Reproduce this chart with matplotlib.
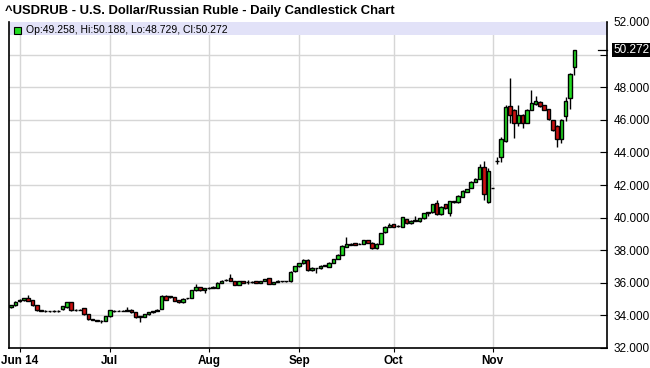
import matplotlib
matplotlib.use("Agg")
import matplotlib.pyplot as plt
from matplotlib.patches import Rectangle
import pandas as pd

plt.rcParams['font.family'] = ['Liberation Sans', 'DejaVu Sans']

# trading days shown on the chart
dates = pd.bdate_range('2014-05-29', '2014-11-28')

# daily OHLC
opens = [34.49, 34.62, 34.88, 34.93, 35.05, 34.92, 34.62, 34.31, 34.29, 34.27,
         34.26, 34.27, 34.39, 34.51, 34.80, 34.33, 34.35, 34.43, 34.06, 33.75,
         33.71, 33.66, 33.67, 33.94, 34.28, 34.27, 34.28, 34.29, 34.35, 34.18,
         33.92, 33.90, 34.08, 34.18, 34.27, 34.40, 35.18, 35.12, 35.12, 34.95,
         34.81, 35.04, 35.06, 35.53, 35.73, 35.57, 35.67, 35.70, 35.69, 36.00,
         36.16, 36.31, 36.10, 35.88, 36.10, 36.02, 36.04, 36.10, 36.00, 36.10,
         36.29, 35.94, 36.06, 36.08, 36.09, 36.10, 36.72, 37.03, 37.21, 37.42,
         36.76, 36.88, 36.89, 37.06, 37.00, 37.24, 37.49, 37.71, 38.20, 38.35,
         38.43, 38.38, 38.41, 38.61, 38.47, 38.12, 38.41, 39.09, 39.43, 39.58,
         39.48, 39.45, 39.91, 39.66, 39.82, 39.78, 39.95, 40.29, 40.32, 40.89,
         40.21, 40.83, 40.27, 40.99, 40.93, 41.28, 41.59, 41.82, 42.20, 42.37,
         43.11, 40.95, 41.82, 43.50, 43.74, 44.71, 46.84, 46.62, 45.82, 46.31,
         45.82, 46.62, 46.96, 47.09, 46.88, 46.64, 45.96, 45.65, 44.83, 46.23,
         47.35, 49.258]
highs = [34.66, 34.88, 34.99, 35.08, 35.23, 34.95, 34.65, 34.34, 34.32, 34.30,
         34.31, 34.31, 34.58, 34.83, 34.82, 34.40, 34.40, 34.46, 34.08, 33.78,
         33.73, 33.69, 33.96, 34.34, 34.31, 34.31, 34.33, 34.51, 34.38, 34.20,
         33.96, 34.08, 34.20, 34.29, 34.37, 35.25, 35.26, 35.20, 35.15, 34.97,
         35.04, 35.09, 35.55, 35.90, 35.76, 35.70, 35.72, 35.80, 36.02, 36.16,
         36.24, 36.55, 36.12, 36.12, 36.12, 36.15, 36.12, 36.13, 36.12, 36.25,
         36.32, 36.06, 36.15, 36.13, 36.14, 36.70, 37.02, 37.23, 37.45, 37.45,
         36.94, 36.93, 37.07, 37.12, 37.26, 37.48, 37.74, 38.30, 38.82, 38.45,
         38.46, 38.46, 38.64, 38.65, 38.50, 38.43, 39.08, 39.46, 39.68, 39.62,
         39.55, 40.06, 39.94, 39.83, 40.11, 39.97, 40.30, 40.36, 40.86, 41.07,
         40.71, 40.86, 41.02, 41.02, 41.37, 41.68, 41.78, 42.23, 42.40, 43.29,
         43.50, 43.07, 41.82, 43.70, 44.93, 46.88, 48.54, 46.66, 46.92, 46.35,
         46.66, 47.81, 47.44, 47.18, 46.92, 46.68, 46.00, 45.70, 46.05, 47.39,
         48.90, 50.188]
lows = [34.45, 34.58, 34.84, 34.90, 34.86, 34.58, 34.28, 34.24, 34.23, 34.22,
        34.22, 34.23, 34.35, 34.48, 34.28, 34.30, 34.32, 34.05, 33.74, 33.70,
        33.64, 33.54, 33.64, 33.92, 34.22, 34.24, 34.25, 34.27, 34.16, 33.86,
        33.57, 33.88, 34.05, 34.16, 34.25, 34.37, 34.94, 35.08, 34.88, 34.78,
        34.79, 35.01, 35.04, 35.50, 35.50, 35.36, 35.62, 35.66, 35.66, 35.98,
        36.12, 36.08, 35.85, 35.85, 35.97, 35.90, 35.98, 35.97, 35.97, 36.08,
        35.91, 35.92, 36.02, 36.04, 36.05, 36.06, 36.69, 37.00, 37.18, 36.72,
        36.73, 36.63, 36.86, 37.03, 36.97, 37.22, 37.46, 37.68, 38.17, 38.30,
        38.30, 38.36, 38.38, 38.44, 38.09, 38.05, 38.38, 39.06, 39.40, 39.42,
        39.44, 39.42, 39.63, 39.63, 39.79, 39.75, 39.92, 40.11, 40.30, 40.18,
        40.18, 40.55, 40.10, 40.88, 40.88, 41.25, 41.56, 41.79, 42.17, 42.34,
        41.10, 40.90, 41.82, 43.30, 43.39, 44.65, 45.82, 44.87, 45.65, 45.49,
        45.78, 46.58, 46.92, 46.78, 46.58, 45.98, 45.30, 44.32, 44.58, 45.90,
        46.68, 48.729]
closes = [34.64, 34.84, 34.96, 35.05, 34.90, 34.62, 34.31, 34.29, 34.27, 34.26,
          34.27, 34.28, 34.55, 34.80, 34.31, 34.36, 34.36, 34.08, 33.77, 33.73,
          33.67, 33.63, 33.94, 34.31, 34.27, 34.28, 34.29, 34.31, 34.18, 33.90,
          33.94, 34.06, 34.18, 34.27, 34.35, 35.22, 34.97, 35.18, 34.91, 34.81,
          35.02, 35.06, 35.53, 35.73, 35.53, 35.67, 35.68, 35.77, 36.00, 36.14,
          36.20, 36.10, 35.88, 36.10, 36.00, 36.04, 36.06, 36.00, 36.10, 36.22,
          35.94, 36.04, 36.10, 36.09, 36.10, 36.68, 37.00, 37.21, 37.42, 36.76,
          36.91, 36.90, 37.04, 37.08, 37.24, 37.45, 37.71, 38.27, 38.37, 38.33,
          38.33, 38.41, 38.61, 38.47, 38.12, 38.41, 39.05, 39.43, 39.54, 39.45,
          39.50, 40.04, 39.66, 39.80, 39.84, 39.95, 40.27, 40.32, 40.83, 40.21,
          40.68, 40.58, 40.99, 40.93, 41.34, 41.65, 41.75, 42.20, 42.37, 43.11,
          41.47, 42.86, 41.82, 43.50, 44.83, 46.76, 46.31, 45.82, 46.31, 45.82,
          46.62, 47.05, 47.13, 46.82, 46.62, 46.02, 45.38, 44.83, 46.00, 47.13,
          48.83, 50.272]

title = "^USDRUB - U.S. Dollar/Russian Ruble - Daily Candlestick Chart"
legend_text = "Op:49.258, Hi:50.188, Lo:48.729, Cl:50.272"
tick_labels = ["Jun 14", "Jul", "Aug", "Sep", "Oct", "Nov"]
up_color = '#22dd22'
down_color = '#cc1111'

fig = plt.figure(figsize=(6.5, 3.68), dpi=100)
ax = fig.add_axes([9 / 650, 1 - 348 / 368, 598 / 650, 326 / 368])

idx = list(range(len(dates)))
bottoms = [min(o, c) for o, c in zip(opens, closes)]
heights = [abs(c - o) for o, c in zip(opens, closes)]
colors = [up_color if c >= o else down_color for o, c in zip(opens, closes)]

# wicks then bodies
ax.vlines(idx, lows, highs, color='black', linewidth=1.0, zorder=3)
ax.bar(idx, heights, bottom=bottoms, width=0.82, color=colors,
       edgecolor='black', linewidth=1.0, zorder=4)

ax.set_xlim(-0.47, 138.6)
ax.set_ylim(32, 52)

# month ticks at the first trading day of each month
months = dates.to_period('M')
tick_pos = [i for i in idx if i > 0 and months[i] != months[i - 1]]
ax.set_xticks(tick_pos)
ax.set_xticklabels(tick_labels, fontweight='bold', fontsize=8.5)
ax.tick_params(axis='x', direction='out', length=3, pad=2, color='black')

# right price axis; 50.000 is hidden by the last-price box
ax.yaxis.tick_right()
yvals = list(range(32, 53, 2))
ax.set_yticks(yvals)
ax.set_yticklabels(["" if v == 50 else "%.3f" % v for v in yvals], fontsize=8.5)
ax.tick_params(axis='y', direction='in', length=5, pad=5, color='black')

ax.grid(True, color='#d6d6d6', linewidth=1.0, zorder=0)
ax.set_axisbelow(True)
ax.spines['top'].set_visible(False)
for s in ['left', 'right', 'bottom']:
    ax.spines[s].set_color('black')
    ax.spines[s].set_linewidth(1.2)

# legend band at top
ax.axhspan(51.2, 52, color='#e2e2f8', zorder=1, linewidth=0)
ax.add_patch(Rectangle((0.009, 0.963), 0.011, 0.022, transform=ax.transAxes,
                       facecolor=up_color, edgecolor='black', linewidth=0.8,
                       zorder=5))
ax.text(0.028, 0.974, legend_text, transform=ax.transAxes, fontsize=7.5,
        va='center', ha='left', zorder=5)

# last price marker
ax.plot([136.5, 138.6], [closes[-1], closes[-1]], color='black', linewidth=0.9,
        clip_on=False, zorder=5)
ax.text(1.0 + 6 / 598, closes[-1], "%.3f" % closes[-1],
        transform=ax.get_yaxis_transform(), fontsize=8.5, color='white',
        va='center', ha='left',
        bbox=dict(boxstyle='square,pad=0.1', facecolor='black', edgecolor='none'))

fig.text(5 / 650, 1 - 11 / 368, title, fontsize=9.4, fontweight='bold',
         va='center', ha='left')

fig.savefig('out.png', dpi=100, facecolor='white')
